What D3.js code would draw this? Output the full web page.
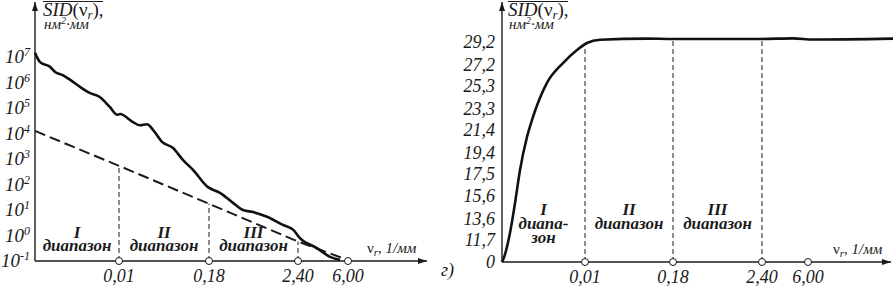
<!DOCTYPE html>
<html>
<head>
<meta charset="utf-8">
<script src="https://cdn.jsdelivr.net/npm/d3@7"></script>
<style>
  body { margin: 0; background: #fff; }
</style>
</head>
<body>
<svg id="chart" width="895" height="286"></svg>
<script>
// frequency ticks (1/мм), shared by both panels
const freqTicks = [0.01, 0.18, 2.40, 6.00];
const freqLabels = ["0,01", "0,18", "2,40", "6,00"];
const bandNames = ["I", "II", "III"];

// left panel: log axis
const logTickExp = [-1, 0, 1, 2, 3, 4, 5, 6, 7];
const sidLogFreq = [0, 0.0006, 0.0018, 0.0024, 0.0033, 0.0042, 0.0054, 0.0065, 0.0077, 0.0089, 0.0098,
  0.0119, 0.0364, 0.0497, 0.0629, 0.0742, 0.0912, 0.112, 0.131, 0.150, 0.178,
  0.454, 0.779, 1.028, 1.277, 1.627, 2.026, 2.276, 2.544, 3.768, 4.704, 5.424];
const sidLogVal = [1.45e7, 6.3e6, 4.1e6, 2.6e6, 1.95e6, 1.26e6, 6.6e5, 3.9e5, 2.7e5, 1.1e5, 5.4e4,
  5.8e4, 2.8e4, 2.1e4, 2.3e4, 1.4e4, 4.7e3, 2.7e3, 910, 370, 79,
  47, 19, 10, 8.3, 5.4, 2.6, 1.7, 0.79, 0.32, 0.145, 0.11];
// dashed straight fit
const fitFreq = [0, 0.01, 0.18, 2.40, 5.78];
const fitVal = [1.26e4, 540, 17.5, 0.58, 0.12];

// right panel: linear axis (broken below 11,7)
const linTicks = [0, 11.7, 13.6, 15.6, 17.5, 19.4, 21.4, 23.3, 25.3, 27.2, 29.2];
const sidFreq = [0, 0.00012, 0.00096, 0.00157, 0.00217, 0.00301, 0.00373, 0.0054, 0.00735, 0.00904,
  0.0139, 0.039, 0.13, 0.18, 2.35, 4.83, 6.39, 12.65];
const sidVal = [0, 1.06, 12.32, 14.97, 17.89, 20.80, 22.57, 25.57, 27.34, 28.49,
  29.11, 29.40, 29.50, 29.47, 29.47, 29.52, 29.42, 29.50];

const svg = d3.select("#chart")
  .attr("font-family", "Liberation Serif")
  .attr("font-style", "italic")
  .attr("fill", "#1a1a1a");

svg.append("defs").append("marker")
  .attr("id", "arrow")
  .attr("markerUnits", "userSpaceOnUse")
  .attr("markerWidth", 10).attr("markerHeight", 8)
  .attr("refX", 9).attr("refY", 3)
  .attr("orient", "auto")
  .append("path")
  .attr("d", "M0,0 L9,3 L0,6 z")
  .attr("fill", "#1a1a1a");

function drawAxes(x0, y0, xEnd) {
  svg.append("line")
    .attr("x1", x0).attr("y1", y0).attr("x2", x0).attr("y2", 2)
    .attr("stroke", "#1a1a1a").attr("stroke-width", 1.4)
    .attr("marker-end", "url(#arrow)");
  svg.append("line")
    .attr("x1", x0).attr("y1", y0).attr("x2", xEnd).attr("y2", y0)
    .attr("stroke", "#1a1a1a").attr("stroke-width", 1.4)
    .attr("marker-end", "url(#arrow)");
}

function yTitle(x) {
  const t = svg.append("text").attr("x", x).attr("y", 16).attr("font-size", 19);
  t.append("tspan").text("SID");
  t.append("tspan").attr("font-style", "normal").text("(ν");
  t.append("tspan").attr("dy", 3).attr("font-size", 13).text("r");
  t.append("tspan").attr("dy", -3).attr("font-style", "normal").text("),");
  svg.append("line")
    .attr("x1", x).attr("x2", x + 60).attr("y1", 1.5).attr("y2", 1.5)
    .attr("stroke", "#1a1a1a").attr("stroke-width", 1.2);
  const u = svg.append("text").attr("x", x + 1).attr("y", 29).attr("font-size", 15);
  u.append("tspan").text("нм");
  u.append("tspan").attr("dy", -5).attr("font-size", 10).text("2");
  u.append("tspan").attr("dy", 5).text("·мм");
}

function xTitle(x, y) {
  const t = svg.append("text").attr("x", x).attr("y", y).attr("font-size", 15);
  t.append("tspan").attr("font-style", "normal").text("ν");
  t.append("tspan").attr("dy", 3).attr("font-size", 11).text("r");
  t.append("tspan").attr("dy", -3).text(", 1/мм");
}

function freqMarks(x, y0, tops) {
  // vertical dashed band borders
  freqTicks.forEach((f, i) => {
    if (tops[i] == null) return;
    svg.append("line")
      .attr("x1", x(f)).attr("x2", x(f))
      .attr("y1", y0).attr("y2", tops[i])
      .attr("stroke", "#1a1a1a").attr("stroke-width", 1)
      .attr("stroke-dasharray", "5,3");
  });
  svg.selectAll(null).data(freqTicks).join("circle")
    .attr("cx", (d) => x(d)).attr("cy", y0).attr("r", 3.5)
    .attr("fill", "#fff").attr("stroke", "#1a1a1a").attr("stroke-width", 1);
  svg.selectAll(null).data(freqTicks).join("text")
    .attr("x", (d) => x(d)).attr("y", y0 + 21)
    .attr("text-anchor", "middle")
    .attr("font-size", 18)
    .text((d, i) => freqLabels[i]);
}

// ---------- left panel ----------
const xL = d3.scaleLinear().domain([0, 0.01, 0.18, 2.40, 6.00]).range([35, 119, 209, 298, 348]);
const yL = d3.scaleLog().domain([0.1, 1e7]).range([261, 57]);

drawAxes(35, 261, 427);
yTitle(43);
xTitle(367, 253);

logTickExp.forEach((e) => {
  const t = svg.append("text")
    .attr("x", 30).attr("y", yL(Math.pow(10, e)) + 6)
    .attr("text-anchor", "end")
    .attr("font-size", 19);
  t.append("tspan").text("10");
  t.append("tspan").attr("dy", -7).attr("font-size", 12).text(e < 0 ? "-" + Math.abs(e) : e);
});

const fitTops = freqTicks.map((f) => {
  const k = fitFreq.indexOf(f);
  return k >= 0 && f < 6 ? yL(fitVal[k]) : null;
});
freqMarks(xL, 261, fitTops);

svg.append("path")
  .datum(fitFreq.map((f, i) => [f, fitVal[i]]))
  .attr("d", d3.line().x((d) => xL(d[0])).y((d) => yL(d[1])))
  .attr("fill", "none").attr("stroke", "#1a1a1a")
  .attr("stroke-width", 2).attr("stroke-dasharray", "11,5");

svg.append("path")
  .datum(sidLogFreq.map((f, i) => [f, sidLogVal[i]]))
  .attr("d", d3.line().x((d) => xL(d[0])).y((d) => yL(d[1])).curve(d3.curveMonotoneX))
  .attr("fill", "none").attr("stroke", "#111")
  .attr("stroke-width", 2.6).attr("stroke-linejoin", "round");

function bandLabels(x, edges, rows, y1, lh, fs) {
  bandNames.forEach((name, i) => {
    const cx = (x(edges[i]) + x(edges[i + 1])) / 2;
    const t = svg.append("text")
      .attr("x", cx).attr("y", y1)
      .attr("text-anchor", "middle")
      .attr("font-weight", "bold")
      .attr("font-size", fs);
    [name].concat(rows[i]).forEach((line, j) => {
      t.append("tspan").attr("x", cx).attr("dy", j === 0 ? 0 : lh).text(line);
    });
  });
}

bandLabels(xL, [0, 0.01, 0.18, 2.40], [["диапазон"], ["диапазон"], ["диапазон"]], 238, 13, 17);

// ---------- right panel ----------
const xR = d3.scaleLinear().domain([0, 0.01, 0.18, 2.40, 6.00]).range([502, 585, 673, 762, 808]);
const yR = d3.scaleLinear().domain([0, 11.7, 29.2]).range([262, 240, 42]);

drawAxes(502, 262, 891);
yTitle(508);
xTitle(833, 254);

svg.selectAll(null).data(linTicks).join("text")
  .attr("x", 495).attr("y", (d) => yR(d) + 6)
  .attr("text-anchor", "end")
  .attr("font-size", 18)
  .text((d) => String(d).replace(".", ","));

const valAt = d3.scaleLinear().domain(sidFreq).range(sidVal);
freqMarks(xR, 262, freqTicks.map((f) => (f < 6 ? yR(valAt(f)) : null)));

svg.append("path")
  .datum(sidFreq.map((f, i) => [f, sidVal[i]]))
  .attr("d", d3.line().x((d) => xR(d[0])).y((d) => yR(d[1])).curve(d3.curveMonotoneX))
  .attr("fill", "none").attr("stroke", "#111")
  .attr("stroke-width", 2.6).attr("stroke-linejoin", "round");

bandLabels(xR, [0, 0.01, 0.18, 2.40], [["диапа-", "зон"], ["диапазон"], ["диапазон"]], 215, 14, 17);

svg.append("text").attr("x", 441).attr("y", 276).attr("font-size", 18).text("г)");
</script>
</body>
</html>
